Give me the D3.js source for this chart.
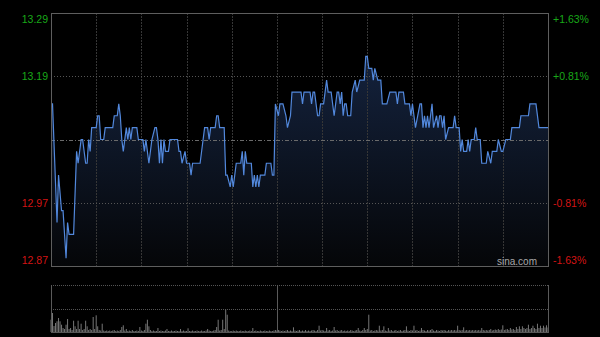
<!DOCTYPE html>
<html>
<head>
<meta charset="utf-8">
<script src="https://cdn.jsdelivr.net/npm/d3@7/dist/d3.min.js"></script>
<style>
  body { margin: 0; background: #000; }
  svg { display: block; }
</style>
</head>
<body>
<script>
var w = 600;
var h = 337;

var prevClose = 13.08;
var pctLevels = [0.0163, 0.00815, -0.00815, -0.0163];
var priceLabels = ["13.29", "13.19", "12.97", "12.87"];
var pctLabels = ["+1.63%", "+0.81%", "-0.81%", "-1.63%"];

// minute since 09:30 (0..330, lunch squeezed out) and last price
var priceMinutes = [
  0, 1, 4, 5, 7, 8, 10, 11, 12, 15,
  17, 18, 20, 21, 23, 24, 25, 26, 27, 30,
  31, 32, 33, 35, 36, 41, 42, 44, 45, 46,
  47, 48, 50, 51, 52, 53, 54, 57, 58, 61,
  62, 63, 65, 67, 69, 70, 71, 72, 73, 74,
  75, 76, 78, 79, 84, 85, 86, 87, 89, 90,
  92, 93, 94, 99, 101, 102, 104, 105, 106, 109,
  110, 111, 112, 115, 116, 117, 119, 120, 121, 123,
  126, 127, 128, 129, 130, 133, 134, 135, 136, 137,
  138, 139, 142, 143, 146, 147, 148, 149, 151, 152,
  154, 156, 157, 159, 160, 166, 167, 168, 172, 173,
  174, 175, 177, 178, 179, 181, 183, 184, 186, 188,
  190, 191, 192, 193, 194, 195, 196, 197, 199, 200,
  202, 203, 205, 208, 209, 210, 211, 213, 214, 215,
  217, 219, 220, 223, 225, 229, 230, 231, 234, 235,
  238, 239, 240, 241, 242, 245, 246, 247, 248, 249,
  250, 251, 253, 254, 256, 257, 258, 259, 260, 261,
  262, 264, 267, 268, 269, 271, 272, 273, 274, 276,
  277, 278, 279, 281, 282, 283, 285, 286, 289, 290,
  292, 293, 296, 297, 299, 300, 302, 305, 306, 311,
  312, 317, 318, 322, 324, 330
];
var prices = [
  13.14, 13.14, 12.94, 13.02, 12.96, 12.96, 12.88, 12.94, 12.92, 12.92,
  13.06, 13.04, 13.08, 13.08, 13.04, 13.04, 13.08, 13.06, 13.10, 13.10,
  13.12, 13.12, 13.08, 13.08, 13.10, 13.10, 13.12, 13.12, 13.14, 13.12,
  13.08, 13.06, 13.10, 13.08, 13.10, 13.08, 13.10, 13.10, 13.08, 13.08,
  13.06, 13.08, 13.04, 13.08, 13.10, 13.10, 13.08, 13.04, 13.08, 13.04,
  13.08, 13.06, 13.06, 13.08, 13.08, 13.06, 13.06, 13.04, 13.06, 13.04,
  13.04, 13.02, 13.04, 13.04, 13.08, 13.10, 13.10, 13.08, 13.10, 13.10,
  13.12, 13.12, 13.10, 13.10, 13.02, 13.02, 13.00, 13.02, 13.00, 13.04,
  13.04, 13.06, 13.02, 13.06, 13.04, 13.04, 13.00, 13.02, 13.00, 13.02,
  13.00, 13.02, 13.02, 13.04, 13.04, 13.02, 13.02, 13.14, 13.12, 13.14,
  13.14, 13.12, 13.10, 13.12, 13.16, 13.16, 13.14, 13.16, 13.16, 13.14,
  13.16, 13.16, 13.12, 13.12, 13.14, 13.14, 13.18, 13.16, 13.16, 13.12,
  13.16, 13.16, 13.14, 13.16, 13.12, 13.14, 13.14, 13.12, 13.12, 13.16,
  13.18, 13.16, 13.18, 13.18, 13.22, 13.22, 13.20, 13.20, 13.18, 13.20,
  13.18, 13.18, 13.14, 13.14, 13.16, 13.16, 13.14, 13.16, 13.16, 13.14,
  13.14, 13.12, 13.14, 13.12, 13.10, 13.14, 13.14, 13.10, 13.12, 13.10,
  13.12, 13.10, 13.14, 13.10, 13.12, 13.10, 13.12, 13.12, 13.10, 13.12,
  13.08, 13.10, 13.10, 13.12, 13.10, 13.10, 13.06, 13.08, 13.06, 13.06,
  13.08, 13.06, 13.08, 13.08, 13.10, 13.08, 13.08, 13.04, 13.04, 13.06,
  13.04, 13.06, 13.06, 13.08, 13.06, 13.06, 13.08, 13.08, 13.10, 13.10,
  13.12, 13.12, 13.14, 13.14, 13.10, 13.10
];

// volume per minute, minutes 0..330
var volumes = [
  123, 190, 60, 90, 107, 140, 107, 73, 40, 30,
  73, 130, 30, 40, 20, 113, 57, 30, 113, 30,
  83, 20, 30, 113, 57, 20, 30, 20, 150, 30,
  167, 57, 20, 15, 83, 15, 10, 15, 10, 15,
  10, 15, 20, 10, 15, 10, 20, 50, 67, 15,
  30, 10, 15, 10, 20, 10, 10, 15, 10, 50,
  15, 10, 20, 83, 123, 57, 20, 10, 15, 10,
  10, 40, 10, 15, 10, 10, 15, 30, 10, 10,
  15, 10, 10, 15, 10, 10, 30, 10, 15, 10,
  10, 37, 10, 10, 15, 10, 10, 15, 10, 10,
  15, 10, 10, 15, 30, 15, 10, 10, 15, 20,
  50, 123, 15, 20, 123, 30, 223, 173, 15, 10,
  10, 15, 10, 15, 10, 10, 15, 10, 10, 15,
  10, 10, 15, 10, 40, 10, 15, 10, 10, 15,
  10, 10, 15, 10, 10, 15, 10, 10, 15, 20,
  15,
  20, 15, 10, 15, 10, 15, 20, 10, 15, 10,
  47, 15, 10, 15, 20, 10, 15, 10, 20, 10,
  15, 10, 15, 20, 15, 10, 20, 63, 15, 20,
  15, 10, 40, 15, 20, 10, 15, 50, 15, 20,
  10, 15, 20, 10, 15, 10, 15, 10, 20, 15,
  10, 15, 20, 40, 15, 10, 20, 40, 20, 30,
  173, 15, 20, 10, 15, 20, 15, 63, 15, 20,
  57, 15, 10, 40, 15, 20, 10, 15, 20, 10,
  15, 20, 10, 15, 20, 57, 15, 10, 20, 15,
  63, 15, 20, 10, 15, 40, 20, 15, 10, 20,
  15, 20, 30, 15, 10, 20, 15, 10, 20, 15,
  20, 15, 10, 20, 15, 20, 15, 20, 15, 63,
  20, 15, 20, 47, 15, 20, 15, 20, 15, 20,
  15, 20, 15, 20, 15, 40, 20, 15, 20, 15,
  20, 30, 15, 20, 25, 20, 30, 20, 25, 67,
  20, 25, 30, 20, 40, 25, 30, 20, 50, 30,
  57, 30, 57, 40, 30, 40, 73, 30, 40, 63,
  40, 30, 83, 40, 63, 40, 63, 45, 67, 45
];

var plotL = 51, plotR = 548, plotT = 13, plotB = 266;
var volT = 285, volB = 332;

var svg = d3.select("body").append("svg")
            .attr("width", w)
            .attr("height", h);

svg.append("rect").attr("width", w).attr("height", h).attr("fill", "#000");

var x = d3.scaleLinear().domain([0, 330]).range([plotL, plotR]);
var y = d3.scaleLinear()
          .domain([prevClose * (1 - 0.0163), prevClose * (1 + 0.0163)])
          .range([plotB, plotT]);
var yv = d3.scaleLinear().domain([0, 470]).range([volB, volT]);

var pts = priceMinutes.map(function(m, i) { return [m, prices[i]]; });

// gradient under the line
var grad = svg.append("defs").append("linearGradient")
              .attr("id", "fillGrad")
              .attr("gradientUnits", "userSpaceOnUse")
              .attr("x1", 0).attr("y1", plotT)
              .attr("x2", 0).attr("y2", plotB);
grad.append("stop").attr("offset", "0%").attr("stop-color", "#172848");
grad.append("stop").attr("offset", "100%").attr("stop-color", "#050608");

var area = d3.area()
             .x(function(d) { return x(d[0]); })
             .y0(plotB)
             .y1(function(d) { return y(d[1]); });

svg.append("path")
   .datum(pts)
   .attr("d", area)
   .attr("fill", "url(#fillGrad)");

// vertical grid every 30 minutes
var vgrid = d3.range(30, 330, 30);
svg.selectAll("line.vg").data(vgrid)
   .enter().append("line")
   .attr("class", "vg")
   .attr("x1", function(d) { return Math.round(x(d)) + 0.5; })
   .attr("x2", function(d) { return Math.round(x(d)) + 0.5; })
   .attr("y1", plotT).attr("y2", plotB)
   .attr("stroke", "#363636")
   .attr("stroke-dasharray", "2,1");

// horizontal grid
svg.selectAll("line.hg").data([pctLevels[1], pctLevels[2]])
   .enter().append("line")
   .attr("class", "hg")
   .attr("x1", plotL).attr("x2", plotR)
   .attr("y1", function(d) { return Math.round(y(prevClose * (1 + d))) + 0.5; })
   .attr("y2", function(d) { return Math.round(y(prevClose * (1 + d))) + 0.5; })
   .attr("stroke", "#555")
   .attr("stroke-dasharray", "1,2");

// previous close line
svg.append("line")
   .attr("x1", plotL).attr("x2", plotR)
   .attr("y1", Math.round(y(prevClose)) + 0.5)
   .attr("y2", Math.round(y(prevClose)) + 0.5)
   .attr("stroke", "#6a6a6a")
   .attr("stroke-dasharray", "4,2,1,2");

// price line
var line = d3.line()
             .x(function(d) { return x(d[0]); })
             .y(function(d) { return y(d[1]); });

svg.append("path")
   .datum(pts)
   .attr("d", line)
   .attr("fill", "none")
   .attr("stroke", "#5288dc")
   .attr("stroke-width", 1.2);

// frame
svg.append("rect")
   .attr("x", plotL + 0.5).attr("y", plotT + 0.5)
   .attr("width", plotR - plotL).attr("height", plotB - plotT)
   .attr("fill", "none")
   .attr("stroke", "#5e5e5e");

// labels
function labelY(d, i) {
  var yy = y(prevClose * (1 + pctLevels[i]));
  if (i == 0) yy += 6;
  if (i == 3) yy -= 6;
  return yy + 4;
}

svg.selectAll("text.pl").data(priceLabels)
   .enter().append("text")
   .attr("class", "pl")
   .text(function(d) { return d; })
   .attr("text-anchor", "end")
   .attr("x", 48)
   .attr("y", labelY)
   .attr("font-family", "Liberation Sans, Arial, sans-serif")
   .attr("font-size", "10.5px")
   .attr("fill", function(d, i) { return i < 2 ? "#18a818" : "#d41414"; });

svg.selectAll("text.pc").data(pctLabels)
   .enter().append("text")
   .attr("class", "pc")
   .text(function(d) { return d; })
   .attr("x", 553)
   .attr("y", labelY)
   .attr("font-family", "Liberation Sans, Arial, sans-serif")
   .attr("font-size", "10.5px")
   .attr("fill", function(d, i) { return i < 2 ? "#18a818" : "#d41414"; });

svg.append("text")
   .text("sina.com")
   .attr("text-anchor", "end")
   .attr("x", 537)
   .attr("y", 265)
   .attr("font-family", "Liberation Sans, Arial, sans-serif")
   .attr("font-size", "10px")
   .attr("fill", "#a8a8a8");

// volume panel
svg.selectAll("line.vh").data([volT, (volT + volB) / 2])
   .enter().append("line")
   .attr("class", "vh")
   .attr("x1", plotL).attr("x2", plotR)
   .attr("y1", function(d) { return Math.round(d) + 0.5; })
   .attr("y2", function(d) { return Math.round(d) + 0.5; })
   .attr("stroke", "#555")
   .attr("stroke-dasharray", "1,1");

svg.selectAll("rect.vol").data(volumes)
   .enter().append("rect")
   .attr("class", "vol")
   .attr("x", function(d, i) { return x(i) - 0.5; })
   .attr("y", function(d) { return yv(d); })
   .attr("width", 1)
   .attr("height", function(d) { return volB - yv(d); })
   .attr("fill", "#767676");

svg.append("line")
   .attr("x1", plotL).attr("x2", plotR + 1)
   .attr("y1", volB + 0.5).attr("y2", volB + 0.5)
   .attr("stroke", "#555");

svg.selectAll("line.vv").data([0, 150, 330])
   .enter().append("line")
   .attr("class", "vv")
   .attr("x1", function(d) { return Math.round(x(d)) + 0.5; })
   .attr("x2", function(d) { return Math.round(x(d)) + 0.5; })
   .attr("y1", volT).attr("y2", volB)
   .attr("stroke", "#5a5a5a");
</script>
</body>
</html>
